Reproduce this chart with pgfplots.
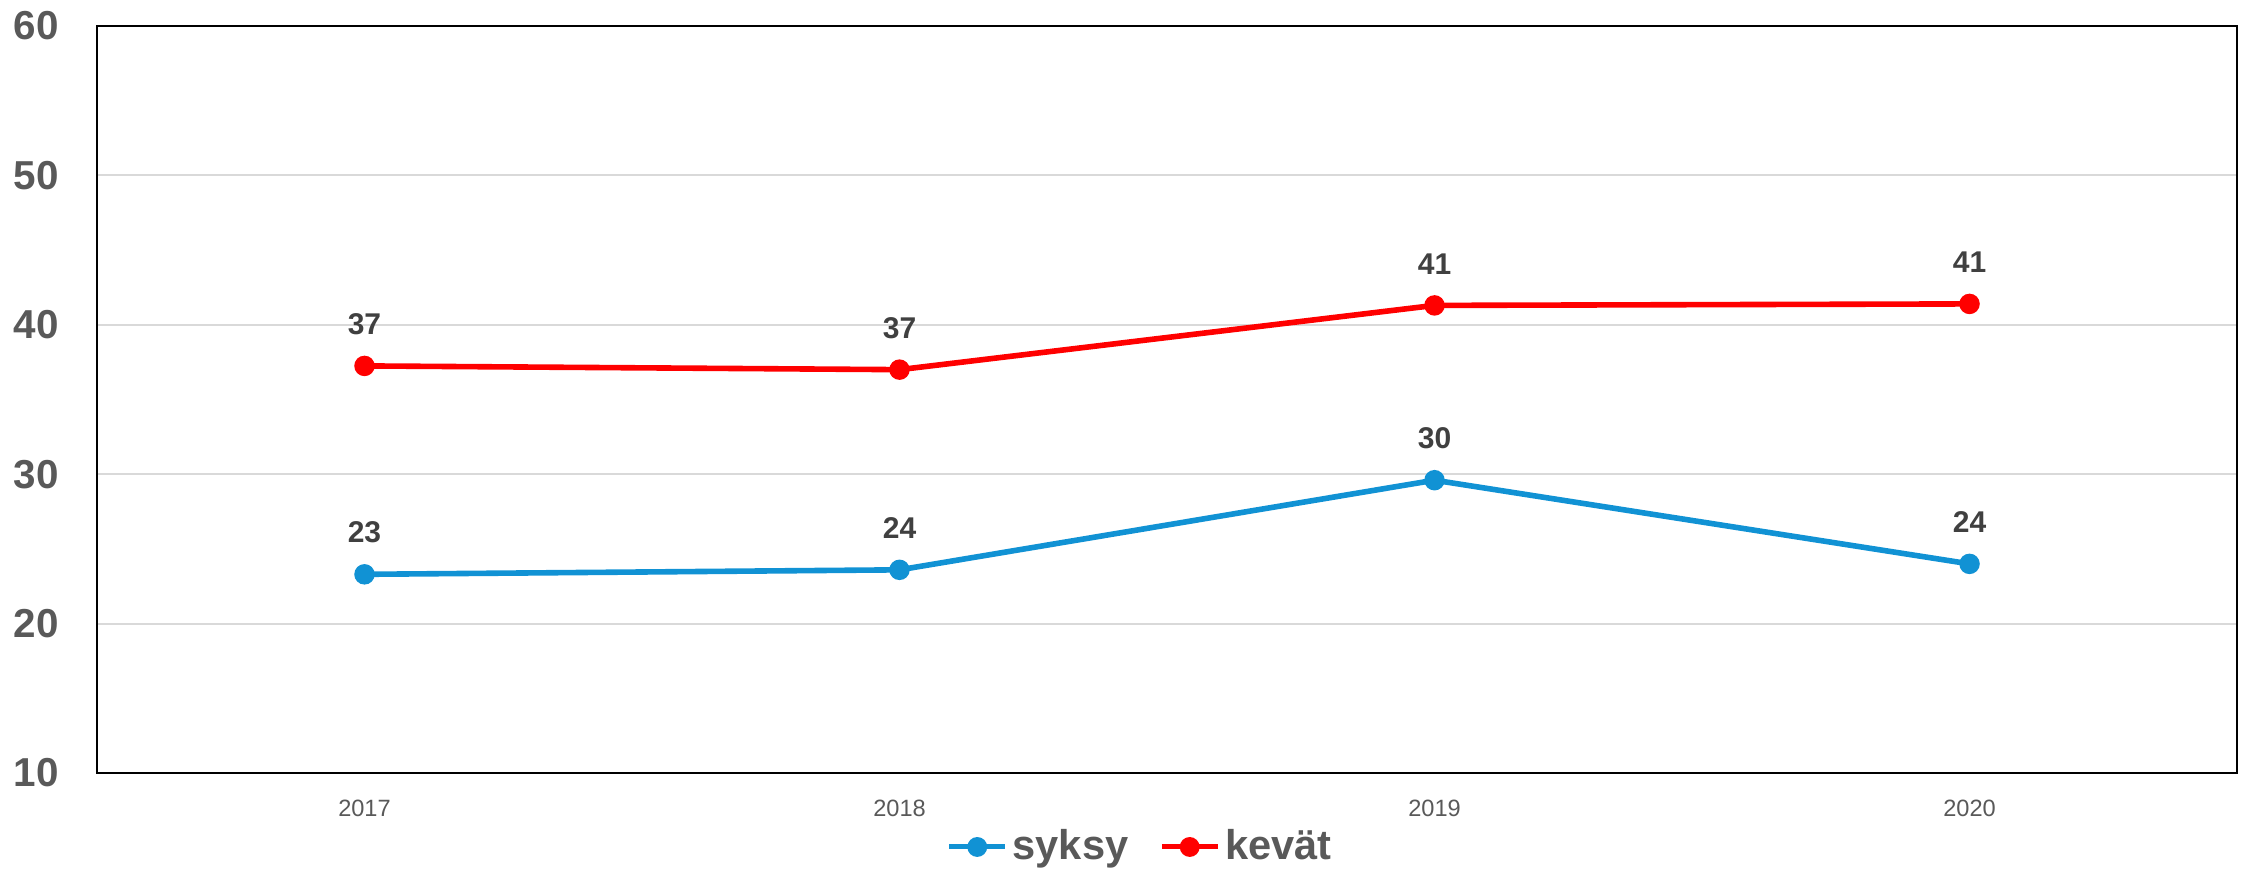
\documentclass[border=0pt]{standalone}
\usepackage{pgfplots}
\pgfplotsset{compat=1.18}
\usepackage{fontspec}
\setmainfont{Liberation Sans}
\definecolor{syksyblue}{RGB}{17,146,212}
\definecolor{labgray}{RGB}{89,89,89}
\definecolor{datgray}{RGB}{64,64,64}
\definecolor{gridgray}{RGB}{217,217,217}
\begin{document}
\begin{tikzpicture}
\begin{axis}[
  scale only axis, width=535pt, height=186.75pt,
  xmin=-0.5, xmax=3.5, ymin=10, ymax=60,
  xtick={0,1,2,3}, xticklabels={2017,2018,2019,2020},
  ytick={10,20,30,40,50,60},
  ymajorgrids, grid style={draw=gridgray, line width=0.5pt},
  major tick length=0pt,
  axis line style={black, line width=0.6pt},
  yticklabel style={font=\bfseries\fontsize{10.1}{12}\selectfont, text=labgray, inner sep=0pt, xshift=-9.4pt},
  xticklabel style={font=\fontsize{5.9}{7}\selectfont, text=labgray, yshift=-3.15pt},
  /pgf/number format/assume math mode=true,
  clip=false,
  point meta=explicit symbolic,
  nodes near coords={\pgfplotspointmeta},
  every node near coord/.append style={font=\bfseries\fontsize{7.5}{9}\selectfont, text=datgray, yshift=3.75pt},
  legend columns=2,
  legend style={at={(axis description cs:0.487,-0.099)}, anchor=center, draw=none, fill=none,
    font=\bfseries\fontsize{10.4}{12}\selectfont, text=labgray,
    nodes={inner sep=0pt},
    /tikz/every odd column/.append style={column sep=1.25pt},
    /tikz/every even column/.append style={column sep=7.75pt}, inner sep=0pt},
  legend image code/.code={\draw[mark repeat=2, mark phase=2, line width=1.25pt] plot coordinates {(0cm,0cm) (0.245cm,0cm) (0.49cm,0cm)};},
]
\addplot[color=syksyblue, line width=1.4pt, mark=*, mark size=1.85pt, mark options={solid}]
  coordinates {(0,23.3)[23] (1,23.6)[24] (2,29.6)[30] (3,24.0)[24]};
\addlegendentry{syksy}
\addplot[color=red, line width=1.4pt, mark=*, mark size=1.85pt, mark options={solid}]
  coordinates {(0,37.25)[37] (1,37.0)[37] (2,41.3)[41] (3,41.4)[41]};
\addlegendentry{kevät}
\end{axis}
\path (-24.25pt,-24.25pt) rectangle (536.75pt,193.25pt);
\end{tikzpicture}
\end{document}
